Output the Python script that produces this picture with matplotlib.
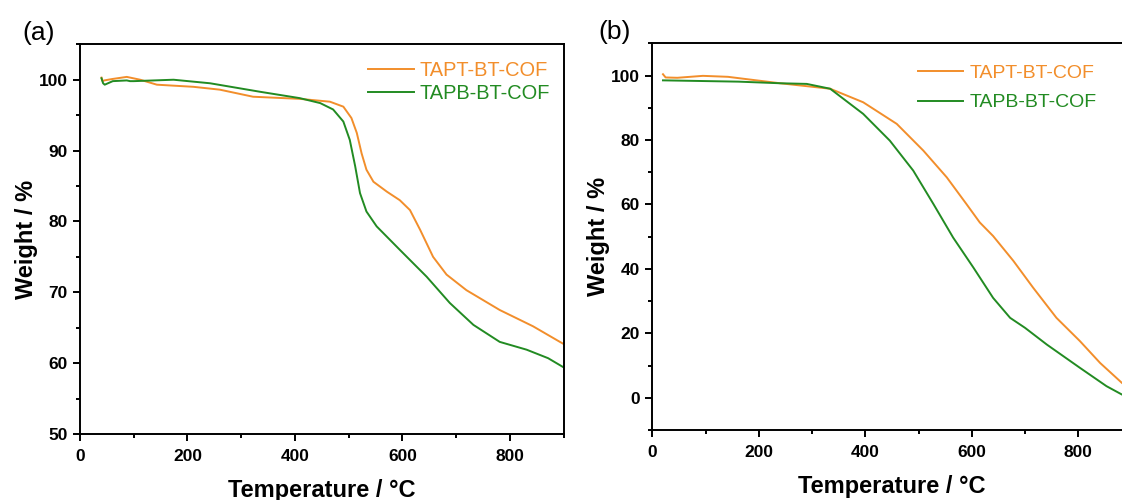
import numpy as np
import matplotlib
matplotlib.use("Agg")
import matplotlib.pyplot as plt
from matplotlib.ticker import MultipleLocator

plt.rcParams["font.family"] = ["Liberation Sans", "DejaVu Sans"]

# (a) TGA curves
t_apt_a = [40, 42, 45, 60, 87, 112, 143, 211, 260, 322, 409, 465, 490, 505, 515, 524, 533, 546,
           571, 595, 614, 633, 657, 682, 719, 781, 843, 893, 900]
w_apt_a = [100.3, 99.8, 99.9, 100.1, 100.4, 100.0, 99.3, 99.0, 98.6, 97.6, 97.3, 96.9, 96.2, 94.6,
           92.5, 89.6, 87.3, 85.6, 84.2, 83.0, 81.6, 78.8, 75.0, 72.5, 70.3, 67.5, 65.2, 63.0, 62.7]
t_apb_a = [40, 43, 46, 61, 87, 93, 100, 174, 242, 335, 409, 447, 471, 490, 502, 512, 521, 533,
           552, 595, 645, 688, 732, 781, 831, 871, 900]
w_apb_a = [100.2, 99.5, 99.3, 99.8, 99.9, 99.8, 99.8, 100.0, 99.5, 98.3, 97.4, 96.7, 95.8, 94.1,
           91.5, 87.8, 84.0, 81.4, 79.3, 76.0, 72.2, 68.5, 65.4, 63.0, 61.9, 60.7, 59.4]

# (b)
t_apt_b = [20, 25, 47, 95, 142, 176, 240, 334, 396, 459, 509, 553, 590, 615, 640, 678, 715, 759,
           803, 841, 882, 900]
w_apt_b = [100.4, 99.4, 99.3, 99.9, 99.6, 98.9, 97.6, 95.9, 91.7, 85.0, 76.7, 68.4, 60.1, 54.4,
           50.2, 42.5, 34.2, 24.8, 17.6, 10.8, 4.6, 2.3]
t_apb_b = [20, 162, 240, 290, 334, 396, 446, 490, 528, 565, 603, 640, 672, 700, 741, 803, 853,
           882, 900]
w_apb_b = [98.5, 98.1, 97.6, 97.4, 95.9, 88.1, 79.8, 70.5, 60.1, 49.7, 40.4, 31.0, 24.8, 21.7,
           16.5, 9.3, 3.6, 1.0, 0.0]

labels = ["TAPT-BT-COF", "TAPB-BT-COF"]
c_apt = "#F28E2B"
c_apb = "#228B22"

fig = plt.figure(figsize=(11.22, 5), dpi=100)
ax_a = fig.add_axes([0.0713, 0.132, 0.4311, 0.7794])
ax_b = fig.add_axes([0.5814, 0.140, 0.4271, 0.7734])


def style(ax, ymaj, ymin):
    for s in ax.spines.values():
        s.set_linewidth(1.4)
    ax.xaxis.set_major_locator(MultipleLocator(200))
    ax.xaxis.set_minor_locator(MultipleLocator(100))
    ax.yaxis.set_major_locator(MultipleLocator(ymaj))
    ax.yaxis.set_minor_locator(MultipleLocator(ymin))
    ax.tick_params(which="both", direction="out", top=False, right=False, width=1.4)
    ax.tick_params(which="major", length=5, labelsize=12.5)
    ax.tick_params(which="minor", length=3)
    ax.tick_params(axis="y", pad=4)
    ax.tick_params(axis="x", pad=5.5)
    for lab in ax.get_xticklabels() + ax.get_yticklabels():
        lab.set_fontweight("bold")
    ax.set_xlabel("Temperature / °C", fontsize=17, fontweight="bold", labelpad=11)
    ax.set_ylabel("Weight / %", fontsize=17, fontweight="bold", labelpad=0.5)


# panel (a)
ax_a.plot(t_apt_a, w_apt_a, color=c_apt, lw=1.4, label=labels[0])
ax_a.plot(t_apb_a, w_apb_a, color=c_apb, lw=1.4, label=labels[1])
ax_a.set_xlim(0, 900)
ax_a.set_ylim(50, 105)
style(ax_a, 10, 5)
ax_a.legend(loc="upper left", bbox_to_anchor=(0.595, 0.957), frameon=False, fontsize=14.4,
            handlelength=2.3, handletextpad=0.3, labelspacing=0.2, borderpad=0,
            borderaxespad=0, labelcolor="linecolor")

# panel (b)
ax_b.plot(t_apt_b, w_apt_b, color=c_apt, lw=1.4, label=labels[0])
ax_b.plot(t_apb_b, w_apb_b, color=c_apb, lw=1.4, label=labels[1])
ax_b.set_xlim(0, 900)
ax_b.set_ylim(-10, 110)
style(ax_b, 20, 10)
ax_b.legend(loc="upper left", bbox_to_anchor=(0.554, 0.945), frameon=False, fontsize=14,
            handlelength=2.3, handletextpad=0.36, labelspacing=0.6, borderpad=0,
            borderaxespad=0, labelcolor="linecolor")

fig.text(22 / 1122, 1 - 33 / 500, "(a)", fontsize=19, ha="left", va="center")
fig.text(598 / 1122, 1 - 32 / 500, "(b)", fontsize=19, ha="left", va="center")

fig.savefig("out.png", dpi=100)
